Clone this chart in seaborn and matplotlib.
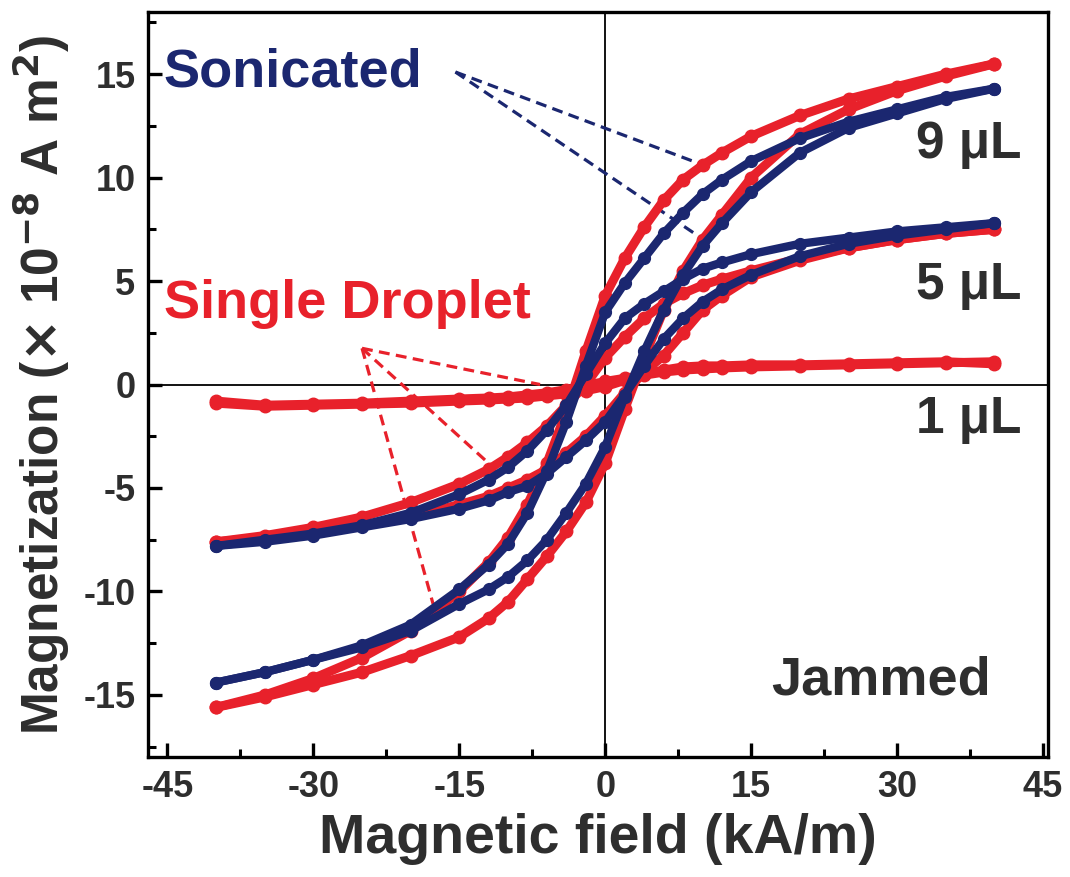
import matplotlib
matplotlib.use("Agg")
import matplotlib.pyplot as plt
import numpy as np
import pandas as pd
import seaborn as sns
from matplotlib.ticker import MultipleLocator

# ---------------- data ----------------
field = [-40, -35, -30, -25, -20, -15, -12, -10, -8, -6, -4, -2, 0,
         2, 4, 6, 8, 10, 12, 15, 20, 25, 30, 35, 40]

# Single droplet (red) – upper (descending-field) and lower (ascending-field) branches
red_9_upper = [-15.6, -15.0, -14.2, -13.2, -11.9, -10.0, -8.6, -7.4, -5.8, -3.8, -1.3, 1.6, 4.3,
               6.1, 7.6, 8.9, 9.9, 10.6, 11.2, 12.0, 13.0, 13.8, 14.4, 15.0, 15.5]
red_9_lower = [-15.6, -15.1, -14.5, -13.9, -13.1, -12.2, -11.3, -10.5, -9.4, -8.3, -7.1, -5.7, -3.8,
               -1.2, 1.3, 3.6, 5.5, 7.0, 8.2, 10.0, 12.1, 13.3, 14.2, 14.9, 15.5]
red_5_upper = [-7.6, -7.3, -6.9, -6.4, -5.7, -4.8, -4.1, -3.5, -2.8, -2.0, -1.0, 0.0, 1.3,
               2.3, 3.2, 3.9, 4.4, 4.8, 5.1, 5.5, 6.1, 6.6, 7.0, 7.3, 7.5]
red_5_lower = [-7.6, -7.4, -7.1, -6.8, -6.4, -5.8, -5.4, -5.0, -4.6, -4.1, -3.3, -2.5, -1.5,
               -0.4, 0.6, 1.4, 2.5, 3.6, 4.3, 5.2, 6.0, 6.6, 7.0, 7.3, 7.5]
red_1_upper = [-0.8, -1.0, -0.95, -0.9, -0.8, -0.7, -0.65, -0.6, -0.5, -0.4, -0.25, -0.05, 0.15,
               0.3, 0.45, 0.6, 0.7, 0.75, 0.8, 0.85, 0.9, 0.95, 1.0, 1.05, 1.1]
red_1_lower = [-0.9, -1.05, -1.0, -0.95, -0.9, -0.8, -0.75, -0.7, -0.65, -0.55, -0.45, -0.3, -0.1,
               0.2, 0.5, 0.7, 0.85, 0.9, 0.9, 0.95, 0.95, 1.0, 1.05, 1.1, 1.0]

# Sonicated (blue)
blue_9_upper = [-14.4, -13.9, -13.3, -12.6, -11.6, -9.9, -8.7, -7.7, -6.2, -4.2, -1.8, 0.9, 3.5,
                4.9, 6.1, 7.3, 8.3, 9.2, 9.9, 10.8, 11.9, 12.7, 13.3, 13.9, 14.3]
blue_9_lower = [-14.4, -13.9, -13.3, -12.7, -11.9, -10.6, -9.9, -9.3, -8.5, -7.5, -6.2, -4.8, -3.0,
                -0.6, 1.6, 3.6, 5.3, 6.7, 7.8, 9.3, 11.2, 12.4, 13.1, 13.8, 14.3]
blue_5_upper = [-7.8, -7.5, -7.2, -6.8, -6.2, -5.3, -4.6, -4.0, -3.2, -2.2, -1.0, 0.5, 2.0,
                3.2, 3.9, 4.5, 5.1, 5.6, 5.9, 6.3, 6.8, 7.1, 7.4, 7.6, 7.8]
blue_5_lower = [-7.8, -7.6, -7.3, -6.9, -6.5, -6.0, -5.6, -5.2, -4.9, -4.3, -3.5, -2.7, -1.8,
                -0.5, 0.9, 2.2, 3.2, 4.0, 4.6, 5.3, 6.2, 6.8, 7.2, 7.5, 7.8]

volume_labels = ["9 \u03bcL", "5 \u03bcL", "1 \u03bcL"]
x_ticks = [-45, -30, -15, 0, 15, 30, 45]
y_ticks = [-15, -10, -5, 0, 5, 10, 15]

RED = "#e8212b"
BLUE = "#1b2770"
TXT = "#2e2e2e"

# ---------------- figure ----------------
sns.set_theme(style="white")
plt.rcParams["font.family"] = ["Liberation Sans", "DejaVu Sans"]
plt.rcParams["font.weight"] = "bold"
plt.rcParams["mathtext.default"] = "bf"

fig = plt.figure(figsize=(10.70, 8.77), dpi=100)
ax = fig.add_axes([0.1383, 0.1368, 0.8411, 0.8495])

ax.axhline(0, color="black", lw=1.3, zorder=1)
ax.axvline(0, color="black", lw=1.3, zorder=1)

red_branches = [red_9_upper, red_9_lower, red_5_upper, red_5_lower, red_1_upper, red_1_lower]
blue_branches = [blue_9_upper, blue_9_lower, blue_5_upper, blue_5_lower]

for vals in red_branches:
    df = pd.DataFrame({"field": field, "m": vals})
    sns.lineplot(data=df, x="field", y="m", ax=ax, color=RED, lw=6.5,
                 marker="o", markersize=9.0, markeredgewidth=1.0,
                 markeredgecolor=RED, markerfacecolor=RED,
                 sort=False, estimator=None, zorder=2)
for vals in blue_branches:
    df = pd.DataFrame({"field": field, "m": vals})
    sns.lineplot(data=df, x="field", y="m", ax=ax, color=BLUE, lw=6.0,
                 marker="o", markersize=8.5, markeredgewidth=1.0,
                 markeredgecolor=BLUE, markerfacecolor=BLUE,
                 sort=False, estimator=None, zorder=3)

# leader lines
son_origin = (-15.4, 15.1)
son_ends = [(10.1, 10.6), (9.8, 7.1)]
drop_origin = (-25.0, 1.75)
drop_ends = [(-6.7, 0.0), (-12.0, -3.8), (-17.7, -10.6)]
for end in son_ends:
    ax.plot([son_origin[0], end[0]], [son_origin[1], end[1]], color=BLUE,
            lw=2.3, dashes=(3.4, 2.0), zorder=1.5)
for end in drop_ends:
    ax.plot([drop_origin[0], end[0]], [drop_origin[1], end[1]], color=RED,
            lw=2.3, dashes=(3.4, 2.0), zorder=1.5)

ax.text(-45.4, 15.1, "Sonicated", color=BLUE, fontsize=39, fontweight="bold",
        ha="left", va="center")
ax.text(-45.4, 3.9, "Single Droplet", color=RED, fontsize=39, fontweight="bold",
        ha="left", va="center")
for lab, yy in zip(volume_labels, [11.6, 4.8, -1.7]):
    ax.text(42.8, yy, lab, color=TXT, fontsize=37, fontweight="bold",
            ha="right", va="center")
ax.text(39.6, -14.3, "Jammed", color=TXT, fontsize=39, fontweight="bold",
        ha="right", va="center")

ax.set_xlim(-47, 45.5)
ax.set_ylim(-18, 18)
ax.set_xticks(x_ticks)
ax.set_yticks(y_ticks)
ax.set_xticklabels([str(v) for v in x_ticks])
ax.set_yticklabels([str(v) for v in y_ticks])
ax.xaxis.set_minor_locator(MultipleLocator(7.5))
ax.yaxis.set_minor_locator(MultipleLocator(2.5))
ax.tick_params(which="major", direction="in", length=10, width=2.4,
               labelsize=26, colors="black", labelcolor=TXT, pad=9,
               top=False, right=False, bottom=True, left=True)
ax.tick_params(which="minor", direction="in", length=5.5, width=2.2,
               colors="black", top=False, right=False, bottom=True, left=True)
for lab in ax.get_xticklabels() + ax.get_yticklabels():
    lab.set_fontweight("bold")

for sp in ax.spines.values():
    sp.set_linewidth(2.4)
    sp.set_color("black")
    sp.set_visible(True)

ax.set_xlabel("Magnetic field (kA/m)", fontsize=40, fontweight="bold",
              color=TXT, labelpad=6)
ax.set_ylabel(r"Magnetization ($\times$ 10$^{-8}$ A m$^{2}$)", fontsize=37,
              fontweight="bold", color=TXT, labelpad=8)
ax.grid(False)

fig.savefig("out.png", dpi=100, facecolor="white")
